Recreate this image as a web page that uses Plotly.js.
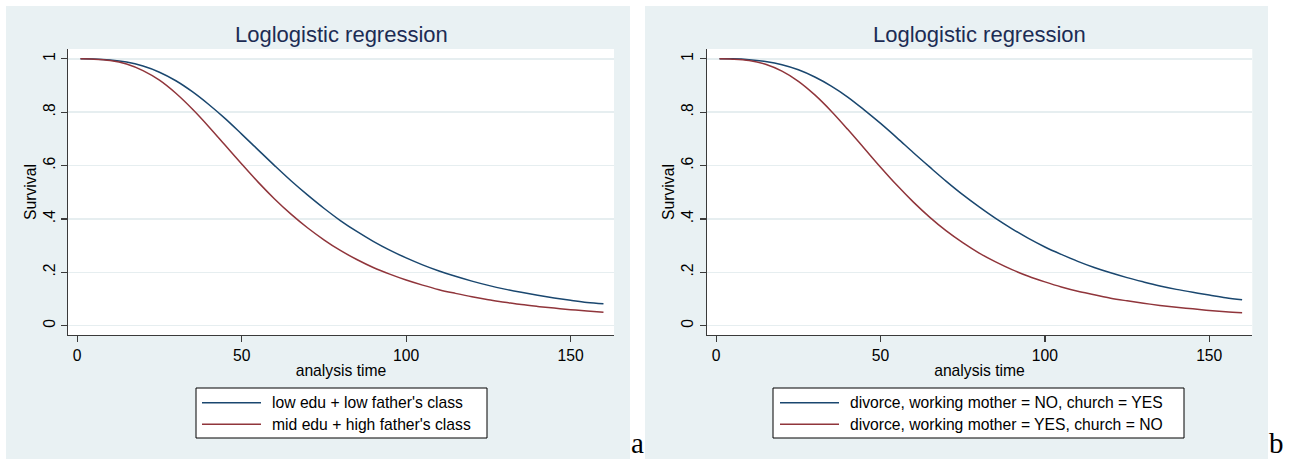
<!DOCTYPE html>
<html>
<head>
<meta charset="utf-8">
<script src="https://cdn.plot.ly/plotly-3.0.1.min.js"></script>
<style>
html,body{margin:0;padding:0;background:#ffffff;}
#chart{width:1293px;height:461px;}
</style>
</head>
<body>
<div id="chart"></div>
<script>
// ---------- data ----------
const analysisTime = [1,5,10,15,20,25,30,35,40,45,50,55,60,65,70,75,80,85,90,95,100,105,110,115,120,125,130,135,140,145,150,155,160];

// panel a
const namesA = ["low edu + low father's class", "mid edu + high father's class"];
const survA1 = [1.000,0.9995,0.996,0.988,0.973,0.950,0.918,0.877,0.829,0.776,0.718,0.659,0.600,0.543,0.490,0.440,0.394,0.353,0.316,0.283,0.254,0.228,0.205,0.185,0.167,0.151,0.137,0.125,0.114,0.104,0.095,0.087,0.082];
const survA2 = [1.000,0.999,0.994,0.981,0.956,0.920,0.871,0.812,0.746,0.676,0.606,0.538,0.475,0.418,0.367,0.322,0.282,0.248,0.218,0.193,0.171,0.152,0.135,0.121,0.108,0.097,0.088,0.079,0.072,0.066,0.060,0.055,0.050];

// panel b
const namesB = ["divorce, working mother = NO, church = YES", "divorce, working mother = YES, church = NO"];
const survB1 = [1.000,1.000,0.997,0.990,0.978,0.959,0.932,0.898,0.857,0.809,0.758,0.704,0.648,0.594,0.541,0.491,0.445,0.402,0.363,0.327,0.295,0.267,0.241,0.218,0.198,0.180,0.164,0.149,0.136,0.125,0.115,0.105,0.097];
const survB2 = [1.000,0.999,0.994,0.980,0.954,0.916,0.865,0.804,0.736,0.665,0.594,0.526,0.463,0.406,0.355,0.311,0.272,0.239,0.210,0.185,0.164,0.145,0.129,0.116,0.103,0.093,0.084,0.076,0.069,0.063,0.057,0.052,0.048];

const chartTitle = "Loglogistic regression";
const xTitle = "analysis time";
const yTitle = "Survival";
const yTickVals = [0, 0.2, 0.4, 0.6, 0.8, 1];
const yTickText = ["0", ".2", ".4", ".6", ".8", "1"];
const xTickVals = [0, 50, 100, 150];
const xTickText = ["0", "50", "100", "150"];
const panelLetters = ["a", "b"];

// ---------- styling ----------
const W = 1293, H = 461;
const PX = v => v / W;
const PY = v => 1 - v / H;
const BLUE = "#1a476f", RED = "#90353b";
const PANEL_BG = "#e9f1f3";
const GRID = "#e6eef0";
const AXIS = "#3a3a3a";
const FONT = "Liberation Sans, Arial, Helvetica, sans-serif";
const FS = 15.7;

const panels = [
  {names: namesA, s1: survA1, s2: survA2, x0: 68, x1: 614, bg: [6, 630], xr: [-2.8, 163.2],
   leg: {bx0: 196, bx1: 487, lx0: 202, lx1: 261, tx: 270}, letterX: 637},
  {names: namesB, s1: survB1, s2: survB2, x0: 706.7, x1: 1252.3, bg: [645, 1268], xr: [-2.9, 163.1],
   leg: {bx0: 773, bx1: 1184, lx0: 780, lx1: 839, tx: 848}, letterX: 1276}
];
const plotTop = 49, plotBot = 335;

const traces = [];
const shapes = [];
const annotations = [];
const layout = {
  width: W, height: H,
  margin: {l: 0, r: 0, t: 0, b: 0},
  paper_bgcolor: "#ffffff",
  plot_bgcolor: "#ffffff",
  showlegend: false,
  font: {family: FONT, size: FS, color: "#000"}
};

panels.forEach((p, i) => {
  const sx = i === 0 ? "" : "2";
  const xa = "x" + sx, ya = "y" + sx;
  traces.push({x: analysisTime, y: p.s1, type: "scatter", mode: "lines", name: p.names[0],
    line: {color: BLUE, width: 1.5, shape: "spline"}, xaxis: xa, yaxis: ya, hoverinfo: "x+y+name"});
  traces.push({x: analysisTime, y: p.s2, type: "scatter", mode: "lines", name: p.names[1],
    line: {color: RED, width: 1.5, shape: "spline"}, xaxis: xa, yaxis: ya, hoverinfo: "x+y+name"});

  layout["xaxis" + sx] = {
    domain: [PX(p.x0), PX(p.x1)], anchor: ya, range: p.xr,
    showgrid: false, zeroline: false, showline: true, linecolor: AXIS, linewidth: 1.2,
    ticks: "outside", ticklen: 6, tickcolor: AXIS, tickwidth: 1.2,
    tickvals: xTickVals, ticktext: xTickText, tickfont: {family: FONT, size: FS, color: "#000"},
    title: {text: xTitle, font: {family: FONT, size: FS, color: "#000"}, standoff: 2},
    fixedrange: true
  };
  layout["yaxis" + sx] = {
    domain: [PY(plotBot), PY(plotTop)], anchor: xa, range: [-0.035, 1.037],
    showgrid: true, gridcolor: GRID, gridwidth: 1.5, zeroline: false,
    showline: true, linecolor: AXIS, linewidth: 1.2,
    ticks: "outside", ticklen: 6, tickcolor: AXIS, tickwidth: 1.2,
    tickvals: yTickVals, ticktext: yTickText, tickangle: -90,
    tickfont: {family: FONT, size: FS, color: "#000"},
    title: {text: yTitle, font: {family: FONT, size: FS, color: "#000"}, standoff: 0},
    fixedrange: true
  };

  // panel background + white plot region
  shapes.push({type: "rect", xref: "paper", yref: "paper", layer: "below",
    x0: PX(p.bg[0]), x1: PX(p.bg[1]), y0: PY(459), y1: PY(6),
    fillcolor: PANEL_BG, line: {width: 0}});
  shapes.push({type: "rect", xref: "paper", yref: "paper", layer: "below",
    x0: PX(p.x0), x1: PX(p.x1), y0: PY(plotBot), y1: PY(plotTop),
    fillcolor: "#ffffff", line: {width: 0}});

  // title
  annotations.push({text: chartTitle, xref: "paper", yref: "paper",
    x: PX((p.x0 + p.x1) / 2), y: PY(34), xanchor: "center", yanchor: "middle", showarrow: false,
    font: {family: FONT, size: 22, color: "#1c2c54"}});

  // legend box
  const L = p.leg;
  shapes.push({type: "rect", xref: "paper", yref: "paper", layer: "above",
    x0: PX(L.bx0), x1: PX(L.bx1), y0: PY(438), y1: PY(388),
    fillcolor: "#ffffff", line: {color: "#000", width: 1}});
  [[BLUE, 402.7], [RED, 424.3]].forEach((c, k) => {
    shapes.push({type: "line", xref: "paper", yref: "paper", layer: "above",
      x0: PX(L.lx0), x1: PX(L.lx1), y0: PY(c[1]), y1: PY(c[1]),
      line: {color: c[0], width: 1.5}});
    annotations.push({text: p.names[k], xref: "paper", yref: "paper",
      x: PX(L.tx), y: PY(c[1]), xanchor: "left", yanchor: "middle", showarrow: false,
      font: {family: FONT, size: FS, color: "#000"}});
  });

  // panel letter
  annotations.push({text: panelLetters[i], xref: "paper", yref: "paper",
    x: PX(p.letterX), y: PY(461), xanchor: "center", yanchor: "bottom", showarrow: false,
    font: {family: "Liberation Serif, Times New Roman, serif", size: 29, color: "#000"}});
});

layout.shapes = shapes;
layout.annotations = annotations;

Plotly.newPlot("chart", traces, layout, {displayModeBar: false, staticPlot: true});
</script>
</body>
</html>
